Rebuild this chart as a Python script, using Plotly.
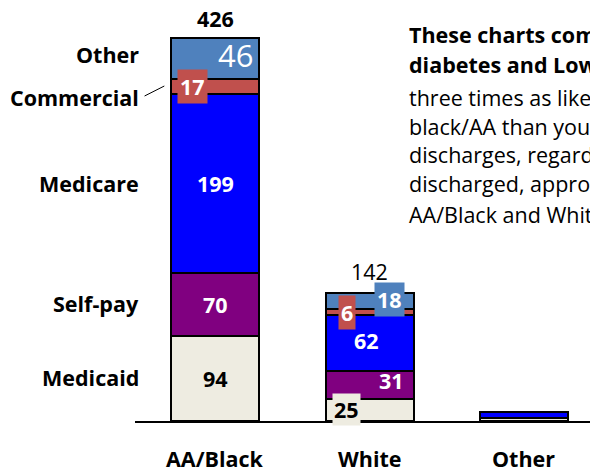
import plotly.graph_objects as go

categories = ["AA/Black", "White", "Other"]
medicaid = [94, 25, 3]
self_pay = [70, 31, 0]
medicare = [199, 62, 7]
commercial = [17, 6, 0]
other = [46, 18, 0]
totals = [426, 142]
series_names = ["Medicaid", "Self-pay", "Medicare", "Commercial", "Other"]
colors = ["#EEECE1", "#800080", "#0000FF", "#C0504D", "#4F81BD"]

text_lines = [
    "<b>These charts compare discharges for</b>",
    "<b>diabetes and Lower extremity amputation.</b>",
    "three times as likely to be discharged",
    "black/AA than younger patients of other",
    "discharges, regardless of payer. Of those",
    "discharged, approximately half were",
    "AA/Black and White Medicare patients.",
]

FONT = "'Open Sans', 'Noto Sans', sans-serif"
fs = 21.5

# page body has an 8px default margin; compensate so the chart sits at the window origin
OFF = 8
PLOT_H = 421 - OFF  # plot area height in px (baseline at window y=421)
PX = 0.9            # px per unit


def wy(py):
    """window pixel row -> data y"""
    return (421 - py) / PX


fig = go.Figure()
for name, vals, col in zip(series_names, [medicaid, self_pay, medicare, commercial, other], colors):
    fig.add_trace(go.Bar(
        x=categories, y=vals, name=name, width=0.57,
        marker=dict(color=col, line=dict(color="black", width=2)),
        hoverinfo="skip",
    ))

ann = []
def lab(x, y, text, color="white", bold=True, size=fs, xshift=0, yshift=0, bg=None, pad=3):
    d = dict(x=x, y=y, xref="x", yref="y", text=f"<b>{text}</b>" if bold else str(text),
             showarrow=False, font=dict(family=FONT, size=size, color=color),
             xshift=xshift, yshift=yshift)
    if bg:
        d.update(bgcolor=bg, borderpad=pad)
    ann.append(d)

# AA/Black labels
c = categories[0]
lab(c, medicaid[0] / 2, medicaid[0], color="black")
lab(c, medicaid[0] + self_pay[0] / 2, self_pay[0])
lab(c, medicaid[0] + self_pay[0] + medicare[0] / 2, medicare[0])
b = medicaid[0] + self_pay[0] + medicare[0]
lab(c, b + commercial[0] / 2, commercial[0], xshift=-23, bg=colors[3], pad=2)
lab(c, b + commercial[0] + other[0] / 2, other[0], bold=False, size=31, xshift=20, yshift=3)
lab(c, totals[0], totals[0], color="black", yshift=19)

# White labels
c = categories[1]
lab(c, medicaid[1] / 2, medicaid[1], color="black", xshift=-23, bg=colors[0], pad=1)
lab(c, medicaid[1] + self_pay[1] / 2, self_pay[1], xshift=22, yshift=4)
lab(c, medicaid[1] + self_pay[1] + medicare[1] / 2, medicare[1], xshift=-3, yshift=2)
b = medicaid[1] + self_pay[1] + medicare[1]
lab(c, b + commercial[1] / 2, commercial[1], xshift=-23, bg=colors[3], pad=2)
lab(c, b + commercial[1] + other[1] / 2, other[1], xshift=20, yshift=2, bg=colors[4], pad=2)
lab(c, totals[1], totals[1], color="black", bold=False, yshift=22)

# Left series labels (aligned to AA/Black segments)
left_y = [medicaid[0] / 2 + 1, medicaid[0] + self_pay[0] / 2 + 2,
          medicaid[0] + self_pay[0] + medicare[0] / 2,
          359, 407]
for name, y in zip(series_names, left_y):
    ann.append(dict(x=0, y=y, xref="paper", yref="y", xanchor="right", text=f"<b>{name}</b>",
                    showarrow=False, xshift=6, font=dict(family=FONT, size=fs, color="black")))

# Category labels
for cat in categories:
    ann.append(dict(x=cat, y=0, xref="x", yref="y", text=f"<b>{cat}</b>", showarrow=False,
                    yshift=-37, font=dict(family=FONT, size=fs, color="black")))

# Right-hand text, one annotation per line
line_rows = [34, 64, 97, 126, 154, 183, 214]
for line, py in zip(text_lines, line_rows):
    ann.append(dict(x=(407 - 135) / (598 - 135), y=wy(py), xref="paper", yref="y",
                    xanchor="left", align="left", text=line, showarrow=False,
                    font=dict(family=FONT, size=fs, color="black")))

fig.update_layout(
    width=598 - OFF, height=475 - OFF, barmode="stack", showlegend=False,
    margin=dict(l=135 - OFF, r=0, t=0, b=475 - OFF - PLOT_H, pad=0),
    paper_bgcolor="white", plot_bgcolor="white",
    annotations=ann,
    shapes=[dict(type="line", xref="x", yref="y", x0=-0.458, y0=wy(96), x1=-0.33, y1=wy(86),
                 line=dict(color="black", width=1))],
    xaxis=dict(range=[-0.52, 2.48], showticklabels=False, showgrid=False, zeroline=False,
               showline=True, linecolor="black", linewidth=2, ticks=""),
    yaxis=dict(range=[0, PLOT_H / PX], visible=False, showgrid=False, zeroline=False),
)

fig.write_html("out.html")
